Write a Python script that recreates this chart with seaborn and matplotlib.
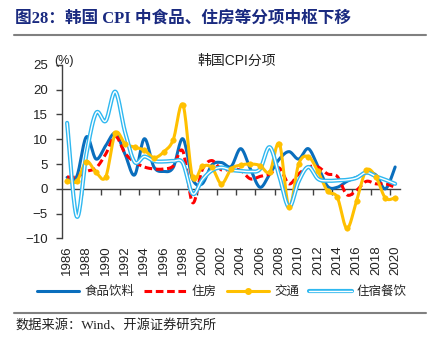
import numpy as np
import matplotlib
matplotlib.use("Agg")
import matplotlib.pyplot as plt
import seaborn as sns
from matplotlib.lines import Line2D

# Korea CPI components, YoY %, 1986-2020
years = list(range(1986, 2021))
food = [2.3, 2.5, 10.5, 6.0, 8.7, 11.2, 7.0, 2.8, 10.1, 4.4,
        3.5, 4.3, 10.1, 2.0, 1.0, 4.8, 5.3, 4.5, 8.1, 4.0,
        0.3, 3.0, 6.0, 7.5, 6.0, 8.1, 4.5, 0.5, 0.3, 1.5,
        2.3, 3.2, 2.8, 0.0, 4.4]
housing = [2.4, 2.4, 3.5, 4.2, 7.0, 10.6, 7.2, 5.4, 4.4, 4.0,
           4.0, 4.6, 7.6, -2.8, 3.8, 5.7, 3.8, 4.0, 3.7, 2.0,
           2.5, 3.0, 4.2, 1.0, 3.0, 4.4, 4.4, 3.0, 2.5, -1.2,
           -0.3, 1.5, 1.0, 1.0, 0.3]
transport = [1.5, 1.5, 5.5, 3.3, 2.4, 11.2, 9.1, 8.4, 7.8, 6.3,
             7.4, 9.9, 17.0, 2.3, 4.5, 4.3, 1.0, 4.0, 4.8, 5.0,
             4.7, 3.4, 9.1, -3.7, 5.0, 6.5, 3.5, -0.5, -1.7, -8.0,
             -2.4, 3.7, 2.4, -1.9, -1.8]
dining = [13.3, -5.6, 7.0, 15.3, 13.7, 19.6, 11.5, 5.4, 6.5, 5.6,
          5.5, 5.6, 5.2, -1.0, 1.8, 3.7, 4.3, 3.8, 3.6, 3.5,
          4.0, 8.4, 2.5, -3.7, 1.5, 4.4, 2.0, 1.6, 1.7, 1.8,
          2.2, 3.3, 2.5, 1.8, 1.0]

labels = ["食品饮料", "住房", "交通", "住宿餐饮"]
c_food, c_house, c_trans, c_dine = "#0a6ebd", "#ff0000", "#ffc000", "#2fb8f0"
dash = (0, (2.5, 1.2))


def smooth(x, y, n=16):
    # Excel style smoothed line (cubic bezier through every point)
    p = np.column_stack([x, y]).astype(float)
    p = np.vstack([p[:1], p, p[-1:]])
    t = np.linspace(0, 1, n, endpoint=False)[:, None]
    out = []
    for i in range(1, len(p) - 2):
        b0 = p[i]
        b1 = p[i] + (p[i + 1] - p[i - 1]) / 6
        b2 = p[i + 1] - (p[i + 2] - p[i]) / 6
        b3 = p[i + 1]
        seg = ((1 - t) ** 3) * b0 + 3 * ((1 - t) ** 2) * t * b1 + 3 * (1 - t) * t ** 2 * b2 + t ** 3 * b3
        out.append(seg)
    out.append(p[-2:-1])
    out = np.vstack(out)
    return out[:, 0], out[:, 1]


sns.set_style("white")
plt.rcParams['font.family'] = ['Liberation Sans', 'Noto Sans CJK SC', 'DejaVu Sans']

fig = plt.figure(figsize=(4.31, 3.51), dpi=100)
ax = fig.add_axes([0.1445, 0.321, 0.7835, 0.494])

sx, sy = smooth(years, food)
sns.lineplot(x=sx, y=sy, ax=ax, color=c_food, lw=2.2, sort=False, estimator=None)
sx, sy = smooth(years, housing)
sns.lineplot(x=sx, y=sy, ax=ax, color=c_house, lw=2.2, sort=False, estimator=None,
             linestyle=dash)
sx, sy = smooth(years, transport)
sns.lineplot(x=sx, y=sy, ax=ax, color=c_trans, lw=2.2, sort=False, estimator=None)
sns.scatterplot(x=years, y=transport, ax=ax, color=c_trans, s=16, edgecolor=c_trans, zorder=3)
sx, sy = smooth(years, dining)
sns.lineplot(x=sx, y=sy, ax=ax, color=c_dine, lw=3.0, sort=False, estimator=None)
sns.lineplot(x=sx, y=sy, ax=ax, color="white", lw=1.0, sort=False, estimator=None)

ax.set_xlim(1985.5, 2020.5)
ax.set_ylim(-10, 25)
ax.set_yticks(range(-10, 26, 5))
ax.set_xticks(years[::2])
ax.set_xticklabels([str(y) for y in years[::2]], rotation=90)
ax.tick_params(axis='x', length=0, pad=5, labelsize=9.5, colors='#222222')
ax.tick_params(axis='y', length=4, width=1, color='#404040', labelsize=9.5,
               labelcolor='#222222', pad=6.5, direction='out', left=True)
for s in ['top', 'right', 'bottom']:
    ax.spines[s].set_visible(False)
ax.spines['left'].set_color('#404040')
ax.spines['left'].set_linewidth(1)

# zero axis with ticks between categories
sec = ax.secondary_xaxis(10 / 35)
sec.set_xticks(np.arange(1987.5, 2020, 2))
sec.set_xticklabels([])
sec.tick_params(length=4, width=1, color='#404040', direction='out')
sec.spines['bottom'].set_color('#404040')
sec.spines['bottom'].set_linewidth(1)

ax.set_xlabel("")
ax.set_ylabel("")

fig.text(64 / 431, 1 - 61 / 351, "(%)", ha='center', va='center', fontsize=9, color='#222222')
fig.text(237 / 431, 1 - 61 / 351, "韩国CPI分项", ha='center', va='center', fontsize=10, color='#222222')

handles = [
    Line2D([], [], color=c_food, lw=2.2),
    Line2D([], [], color=c_house, lw=2.2, linestyle=dash),
    Line2D([], [], color=c_trans, lw=2.2, marker='o', ms=4),
    (Line2D([], [], color=c_dine, lw=3.0), Line2D([], [], color='white', lw=1.0)),
]
fig.legend(handles, labels, loc='center', bbox_to_anchor=(222 / 431, 1 - 292 / 351),
           ncol=4, frameon=False, fontsize=9, handlelength=3.4, numpoints=1,
           columnspacing=0.8, handletextpad=0.4)

fig.text(15 / 431, 1 - 19 / 351, "图28：韩国 CPI 中食品、住房等分项中枢下移", fontsize=12,
         fontweight='bold', color='#1a2a80', va='center',
         family=['Liberation Serif', 'Noto Sans CJK SC'])
fig.add_artist(Line2D([14 / 431, 426 / 431], [1 - 34.5 / 351] * 2, color='#808080', lw=1.5))
fig.add_artist(Line2D([14 / 431, 426 / 431], [1 - 312.5 / 351] * 2, color='#808080', lw=1.5))
fig.text(15 / 431, 1 - 325 / 351, "数据来源：Wind、开源证券研究所", fontsize=9.5, va='center',
         color='#222222', family=['Liberation Serif', 'Noto Sans CJK SC'])

fig.savefig("out.png", dpi=100)
